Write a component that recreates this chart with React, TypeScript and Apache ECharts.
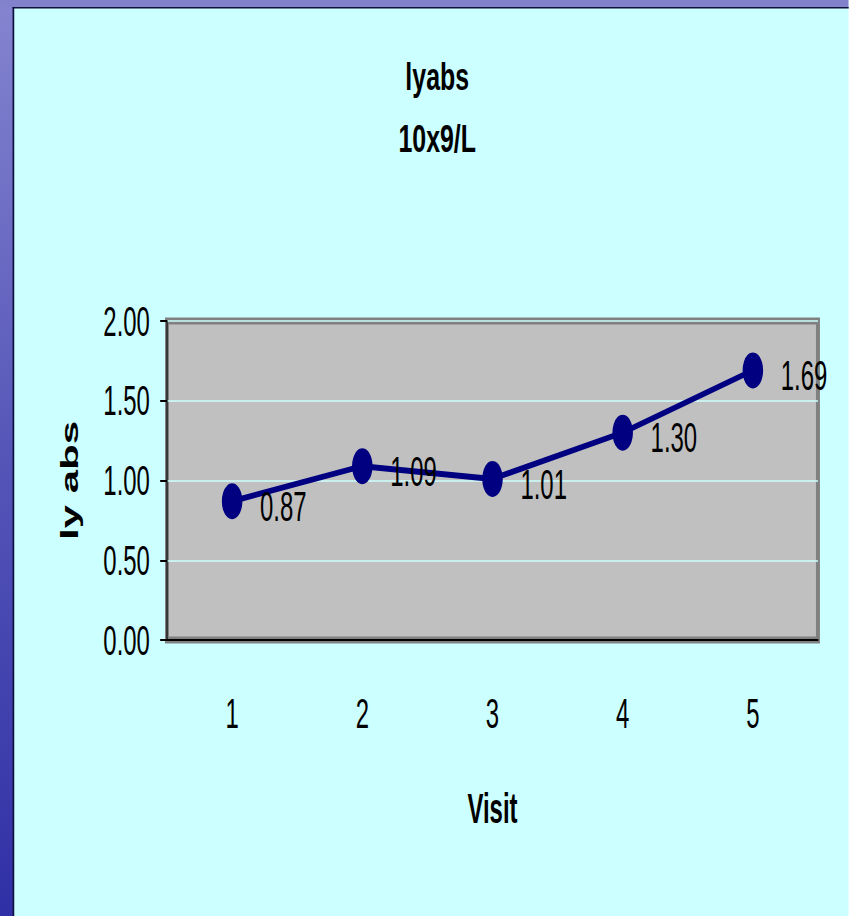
import React, { useEffect, useRef } from "react";
import * as echarts from "echarts";

const categories = ["1", "2", "3", "4", "5"];
const values = [0.87, 1.09, 1.01, 1.3, 1.69];
const titleLines = ["lyabs", "10x9/L"];
const yName = "ly abs";
const xName = "Visit";

const SQUASH = 0.57;
const OUT_W = 849;
const OUT_H = 916;
const IN_W = Math.round(OUT_W / SQUASH);

export default function App() {
  const ref = useRef<HTMLDivElement>(null);
  useEffect(() => {
    if (!ref.current) return;
    const chart = echarts.init(ref.current, undefined, { renderer: "svg" });
    const font = "'Liberation Sans', Arial, sans-serif";
    chart.setOption({
      animation: false,
      backgroundColor: "#CCFFFF",
      graphic: [
        {
          type: "rect",
          shape: { x: 0, y: 0, width: 24, height: OUT_H },
          style: {
            fill: new echarts.graphic.LinearGradient(0, 0, 0, 1, [
              { offset: 0, color: "#8484D0" },
              { offset: 0.5, color: "#5555B8" },
              { offset: 1, color: "#3030A6" },
            ]),
          },
          silent: true,
        },
        {
          type: "rect",
          shape: { x: 0, y: 0, width: IN_W, height: 7 },
          style: { fill: "#8282CC" },
          silent: true,
        },
        {
          type: "rect",
          shape: { x: 22, y: 7, width: 3, height: OUT_H },
          style: { fill: "#101040" },
          silent: true,
        },
        {
          type: "rect",
          shape: { x: 22, y: 7, width: IN_W, height: 1.5 },
          style: { fill: "#101040" },
          silent: true,
        },
        {
          type: "text",
          x: 767,
          y: 77,
          scaleX: 1.15,
          style: {
            text: titleLines[0],
            fontSize: 38,
            fontWeight: "bold",
            fontFamily: font,
            fill: "#000",
            textAlign: "center",
            textVerticalAlign: "middle",
          },
        },
        {
          type: "text",
          x: 767,
          y: 139,
          scaleX: 1.15,
          style: {
            text: titleLines[1],
            fontSize: 38,
            fontWeight: "bold",
            fontFamily: font,
            fill: "#000",
            textAlign: "center",
            textVerticalAlign: "middle",
          },
        },
      ],
      grid: {
        left: 293,
        right: IN_W - 1435,
        top: 321,
        bottom: OUT_H - 640,
        show: true,
        backgroundColor: "#C0C0C0",
        borderColor: "#808080",
        borderWidth: 7,
      },
      xAxis: {
        type: "category",
        data: categories,
        boundaryGap: true,
        name: xName,
        nameLocation: "middle",
        nameGap: 147,
        nameTextStyle: {
          fontSize: 42,
          fontWeight: "bold",
          fontFamily: font,
          color: "#000",
        },
        axisLine: { show: true, lineStyle: { color: "#000", width: 2 } },
        axisTick: { show: false },
        axisLabel: {
          margin: 52,
          fontSize: 42,
          fontFamily: font,
          color: "#000",
        },
        splitLine: { show: false },
      },
      yAxis: {
        type: "value",
        min: 0,
        max: 2,
        interval: 0.5,
        name: yName,
        nameLocation: "middle",
        nameGap: 150,
        nameRotate: 90,
        nameTextStyle: {
          fontSize: 42,
          fontWeight: "bold",
          fontFamily: font,
          color: "#000",
        },
        axisLine: { show: true, lineStyle: { color: "#000", width: 2 } },
        axisTick: { show: true, inside: false, length: 12, lineStyle: { color: "#000", width: 2 } },
        axisLabel: {
          margin: 30,
          fontSize: 42,
          fontFamily: font,
          color: "#000",
          formatter: (v: number) => v.toFixed(2),
        },
        splitLine: { show: true, lineStyle: { color: "#CCFFFF", width: 1.5 } },
      },
      series: [
        {
          type: "line",
          data: values,
          symbol: "circle",
          symbolSize: 36,
          itemStyle: { color: "#000080" },
          lineStyle: { color: "#000080", width: 6 },
          label: {
            show: true,
            position: "right",
            distance: 31,
            offset: [0, 5],
            fontSize: 42,
            fontFamily: font,
            color: "#000",
            formatter: (p: any) => Number(p.value).toFixed(2),
          },
        },
      ],
    });
    return () => chart.dispose();
  }, []);

  return (
    <div
      style={{
        position: "fixed",
        left: 0,
        top: 0,
        width: OUT_W,
        height: OUT_H,
        overflow: "hidden",
      }}
    >
      <div
        ref={ref}
        style={{
          width: IN_W,
          height: OUT_H,
          transform: `scaleX(${SQUASH})`,
          transformOrigin: "0 0",
        }}
      />
    </div>
  );
}
